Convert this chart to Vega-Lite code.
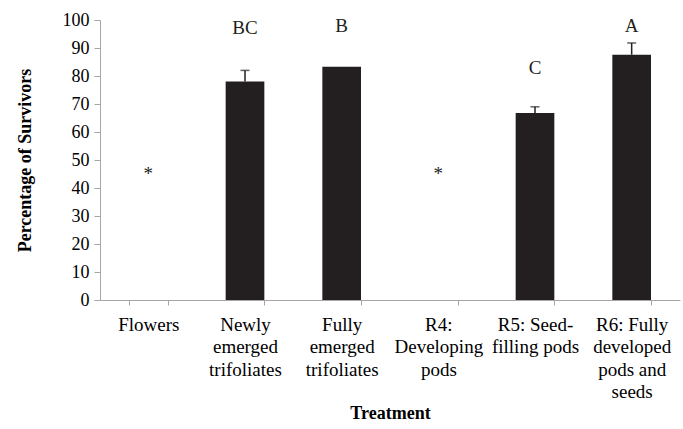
{
  "$schema": "https://vega.github.io/schema/vega-lite/v6.json",
  "autosize": {"type": "none"},
  "padding": {"left": 100, "top": 20, "right": 3, "bottom": 129},
  "width": 580,
  "height": 280,
  "config": {
    "view": {"stroke": null},
    "font": "Liberation Serif",
    "text": {"font": "Liberation Serif"},
    "axis": {"labelFont": "Liberation Serif", "titleFont": "Liberation Serif", "labelColor": "#000000", "titleColor": "#000000", "domainColor": "#a6a6a6", "tickColor": "#a6a6a6", "grid": false},
    "axisY": {"labelFontSize": 18, "tickSize": 6, "labelPadding": 5, "titleFontSize": 18, "titleFontWeight": "bold", "titlePadding": 28}
  },
  "data": {
    "values": [
      {"treatment": "Flowers", "survivors": null, "err": null, "letter": "*", "labelPos": 45},
      {"treatment": "Newly|emerged|trifoliates", "survivors": 78, "err": 82, "letter": "BC", "labelPos": 97},
      {"treatment": "Fully|emerged|trifoliates", "survivors": 83.3, "err": null, "letter": "B", "labelPos": 98},
      {"treatment": "R4:|Developing|pods", "survivors": null, "err": null, "letter": "*", "labelPos": 45},
      {"treatment": "R5: Seed-|filling  pods", "survivors": 66.8, "err": 69, "letter": "C", "labelPos": 83},
      {"treatment": "R6: Fully|developed|pods and|seeds", "survivors": 87.6, "err": 91.8, "letter": "A", "labelPos": 98}
    ]
  },
  "encoding": {
    "x": {
      "field": "treatment", "type": "nominal",
      "sort": ["Flowers", "Newly|emerged|trifoliates", "Fully|emerged|trifoliates", "R4:|Developing|pods", "R5: Seed-|filling  pods", "R6: Fully|developed|pods and|seeds"],
      "scale": {"paddingInner": 0.6, "paddingOuter": 0.3},
      "axis": {"title": "Treatment", "labelAngle": 0, "labelExpr": "split(datum.label, '|')", "labelFontSize": 19, "labelLineHeight": 22.5, "labelPadding": 10, "tickBand": "extent", "tickSize": 5, "titleFontSize": 18, "titleFontWeight": "bold", "titleY": 118, "titleBaseline": "alphabetic", "labelLimit": 200}
    }
  },
  "layer": [
    {
      "mark": {"type": "bar", "color": "#231f20"},
      "encoding": {
        "y": {
          "field": "survivors", "type": "quantitative",
          "scale": {"domain": [0, 100]},
          "axis": {"title": "Percentage of Survivors", "values": [0,10,20,30,40,50,60,70,80,90,100], "labelOverlap": false}
        }
      }
    },
    {
      "mark": {"type": "rule", "color": "#231f20", "strokeWidth": 1.5},
      "encoding": {
        "y": {"field": "survivors", "type": "quantitative", "axis": {"title": "Percentage of Survivors", "values": [0,10,20,30,40,50,60,70,80,90,100], "labelOverlap": false}},
        "y2": {"field": "err"}
      }
    },
    {
      "mark": {"type": "tick", "color": "#231f20", "size": 9, "thickness": 1.5, "orient": "horizontal"},
      "encoding": {
        "y": {"field": "err", "type": "quantitative", "axis": {"title": "Percentage of Survivors", "values": [0,10,20,30,40,50,60,70,80,90,100], "labelOverlap": false}}
      }
    },
    {
      "mark": {"type": "text", "fontSize": 19, "color": "#231f20", "baseline": "middle", "font": "Liberation Serif"},
      "encoding": {
        "y": {"field": "labelPos", "type": "quantitative", "axis": {"title": "Percentage of Survivors", "values": [0,10,20,30,40,50,60,70,80,90,100], "labelOverlap": false}},
        "text": {"field": "letter"}
      }
    }
  ]
}
